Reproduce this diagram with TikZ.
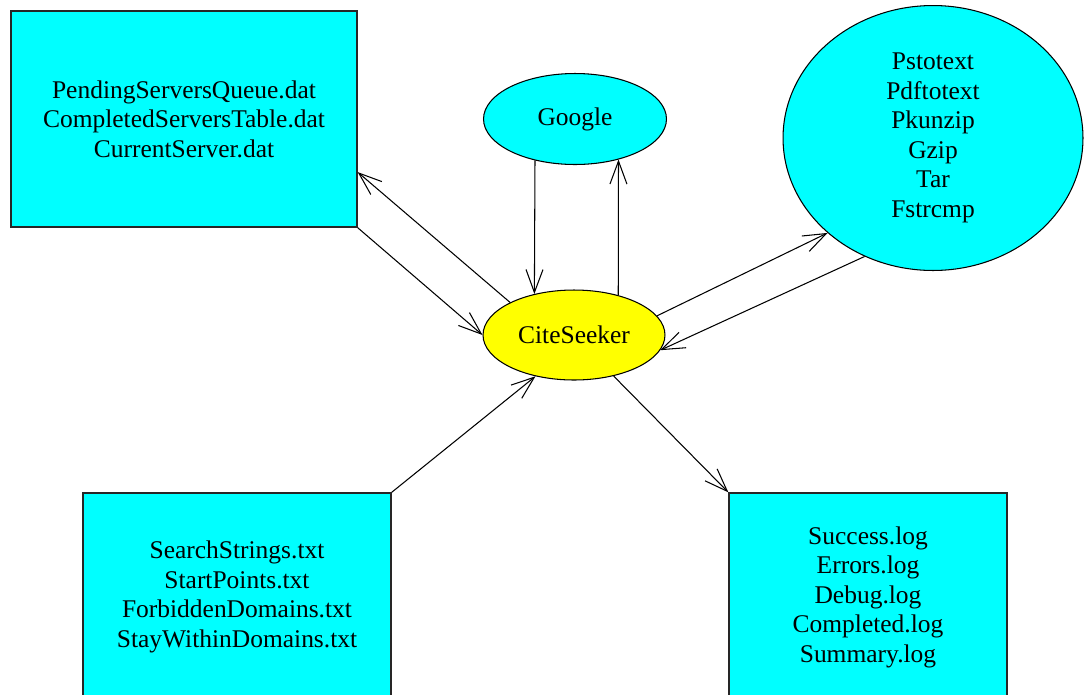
\documentclass[tikz,border=0pt]{standalone}
\usepackage{fontspec}
\setmainfont{Liberation Serif}
\definecolor{FileCyan}{RGB}{0, 255, 255}
\definecolor{CoreYellow}{RGB}{255, 255, 0}
\usetikzlibrary{arrows.meta, positioning, shapes.geometric}

\begin{document}
\begin{tikzpicture}[
            x=0.02cm, y=-0.02cm,
            filebox/.style={rectangle, draw=black!85, line width=0.8pt, fill=FileCyan, align=center, font=\fontsize{14.5}{16.8}\selectfont},
            oval/.style={ellipse, draw=black, line width=0.6pt, inner sep=0pt, align=center, font=\fontsize{14.5}{16.8}\selectfont},
            link/.style={line width=0.6pt, -{Straight Barb[length=4.6mm, width=3.4mm]}},
        ]
            \useasboundingbox (0,0) rectangle (1084,694);
            \clip (0,0) rectangle (1084,694);
            \node[filebox, minimum width=6.92cm, minimum height=4.32cm] (state) at (184,119) {PendingServersQueue.dat\\CompletedServersTable.dat\\CurrentServer.dat};
            \node[filebox, minimum width=6.16cm, minimum height=4.16cm] (input) at (237,597) {SearchStrings.txt\\StartPoints.txt\\ForbiddenDomains.txt\\StayWithinDomains.txt};
            \node[filebox, minimum width=5.56cm, minimum height=4.16cm] (logs) at (868,597) {Success.log\\Errors.log\\Debug.log\\Completed.log\\Summary.log};
            \node[oval, fill=FileCyan, minimum width=3.66cm, minimum height=1.82cm] (google) at (575,119) {Google};
            \node[oval, fill=CoreYellow, minimum width=3.64cm, minimum height=1.80cm] (cite) at (574,335) {CiteSeeker};
            \node[oval, fill=FileCyan, minimum width=6cm, minimum height=5.3cm] (tools) at (933,138) {Pstotext\\Pdftotext\\Pkunzip\\Gzip\\Tar\\Fstrcmp};
            \draw[link] (cite.153) -- (state.-17.6);
            \draw[link] (state.south east) -- (cite.west);
            \draw[link] (google.-134) -- (cite.134);
            \draw[link] (cite.42) -- (google.-43);
            \draw[link] (cite.13.5) -- (tools.222);
            \draw[link] (tools.240) -- (cite.-10);
            \draw[link] (input.north east) -- (cite.-133);
            \draw[link] (cite.-46) -- (logs.north west);
        \end{tikzpicture}
\end{document}
